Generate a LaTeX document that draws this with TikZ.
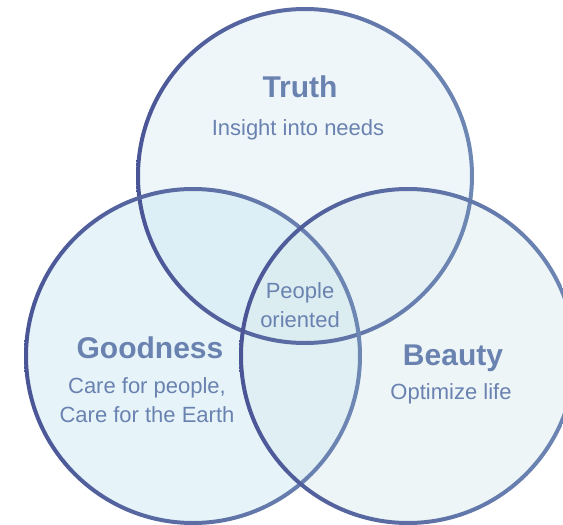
\documentclass[tikz,border=0pt]{standalone}
\usepackage{fontspec}
\setmainfont{Liberation Sans}
\usepackage{tikz}
\usetikzlibrary{positioning}
\definecolor{ringdark}{HTML}{4A5596}
\definecolor{ringlight}{HTML}{6E88B4}
\definecolor{venntext}{HTML}{6A82B0}
\definecolor{truthfill}{HTML}{DDEDF5}
\definecolor{goodfill}{HTML}{CDE9F3}
\definecolor{beautyfill}{HTML}{DBEBEF}
\tikzstyle{venn title} = [font = \bfseries\fontsize{30}{30}\selectfont, text = venntext, anchor = base, inner sep = 0]
\tikzstyle{venn text} = [font = \fontsize{22}{29}\selectfont, text = venntext, anchor = base, align = center, inner sep = 0]
\tikzstyle{venn fill} = [fill opacity = .5]
\tikzstyle{venn picture} = [x = 1pt, y = -1pt]

\begin{document}
\begin{tikzpicture}[venn picture,
                    ring/.style = {left color = ringdark, right color = ringlight, even odd rule},
                   ]
    \useasboundingbox (0,0) rectangle (563,525);

    % the three sets
    \foreach \c/\x/\y/\col in {truth/305/176/truthfill, good/193/356/goodfill, beauty/408/356/beautyfill}
    {
        \coordinate (\c) at (\x,\y);
        \fill [venn fill, \col] (\c) circle [radius = 167];
    }
    \foreach \c in {truth, good, beauty}
    {
        \shade [ring] (\c) circle [radius = 169] (\c) circle [radius = 165];
    }

    % base anchor of a two line node is the baseline of its last line
    \node [venn title] (truth title) at (300,97) {Truth};
    \node [venn text] (truth text) at (298,135) {Insight into needs};

    \node [venn text] (people) at (300,327) {People\\oriented};

    \node [venn title] (good title) at (150,358) {Goodness};
    \node [venn text] (good text) at (147,422) {Care for people,\\Care for the Earth};

    \node [venn title] (beauty title) at (453,365) {Beauty};
    \node [venn text] (beauty text) at (451,399) {Optimize life};
\end{tikzpicture}
\end{document}
